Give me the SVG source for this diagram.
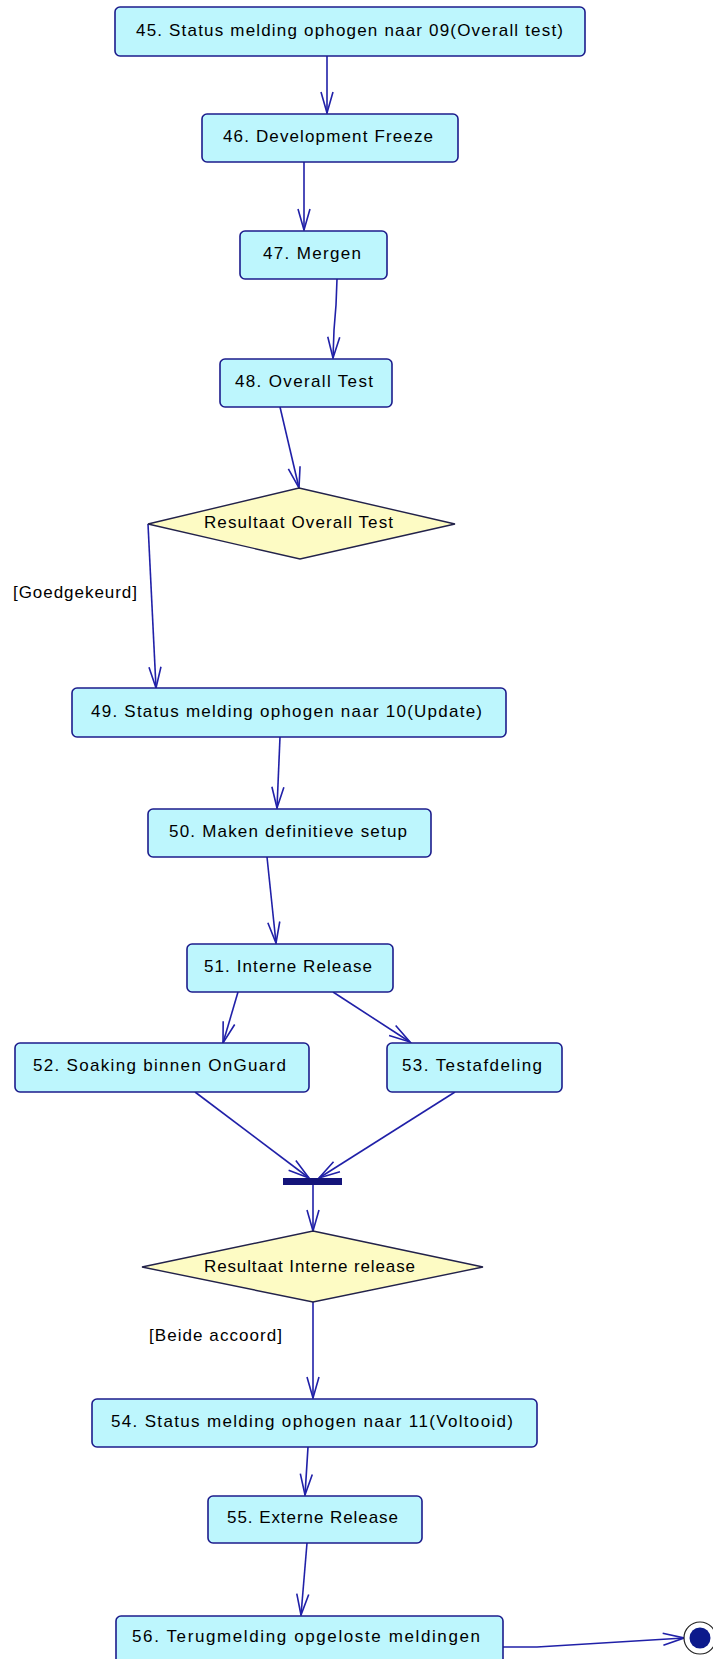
<svg xmlns="http://www.w3.org/2000/svg" width="713" height="1659" viewBox="0 0 713 1659">
  <style>
    .act { fill: #bdf6fd; stroke: #1c1c8c; stroke-width: 1.6; }
    .dec { fill: #fdfbc4; stroke: #22224a; stroke-width: 1.4; }
    .lbl { font-family: "Liberation Sans", Arial, sans-serif; font-size: 17px; fill: #000; }
    .edge { fill: none; stroke: #2020a8; stroke-width: 1.6; marker-end: url(#open); }
    .bar { fill: #14147a; }
  </style>
  <defs>
    <marker id="open" markerUnits="userSpaceOnUse" markerWidth="24" markerHeight="16" viewBox="-22 -8 24 16" refX="0" refY="0" orient="auto">
      <path d="M-21,-6 L0,0 L-21,6" fill="none" stroke="#2020a8" stroke-width="1.6"/>
    </marker>
  </defs>
  <rect width="713" height="1659" fill="#ffffff"/>

  <!-- connectors -->
  <g id="connectors">
    <path class="edge" d="M327,56 L327,113"/>
    <path class="edge" d="M304,162 L304,230"/>
    <path class="edge" d="M337,279 L336,305 L334,330 L333,358"/>
    <path class="edge" d="M280,407 L299,488"/>
    <path class="edge" d="M148,524 L156,688"/>
    <path class="edge" d="M280,737 L277,808"/>
    <path class="edge" d="M267,857 L276,943"/>
    <path class="edge" d="M238,992 L223,1043"/>
    <path class="edge" d="M333,992 L410,1042"/>
    <path class="edge" d="M195,1092 L309,1178"/>
    <path class="edge" d="M455,1092 L319,1178"/>
    <path class="edge" d="M313,1185 L313,1231"/>
    <path class="edge" d="M313,1302 L313,1398"/>
    <path class="edge" d="M308,1447 L305,1495"/>
    <path class="edge" d="M307,1543 L301,1615"/>
    <path class="edge" d="M503,1647 L537,1647 L684,1638"/>
    <text class="lbl" x="13" y="598" textLength="124" lengthAdjust="spacing">[Goedgekeurd]</text>
    <text class="lbl" x="149" y="1341" textLength="133" lengthAdjust="spacing">[Beide accoord]</text>
  </g>

  <!-- activities -->
  <g id="n45">
    <rect class="act" x="115" y="7" width="470" height="49" rx="5"/>
    <text class="lbl" x="136" y="36" textLength="427" lengthAdjust="spacing">45. Status melding ophogen naar 09(Overall test)</text>
  </g>
  <g id="n46">
    <rect class="act" x="202" y="114" width="256" height="48" rx="5"/>
    <text class="lbl" x="223" y="142" textLength="210" lengthAdjust="spacing">46. Development Freeze</text>
  </g>
  <g id="n47">
    <rect class="act" x="240" y="231" width="147" height="48" rx="5"/>
    <text class="lbl" x="263" y="259" textLength="98" lengthAdjust="spacing">47. Mergen</text>
  </g>
  <g id="n48">
    <rect class="act" x="220" y="359" width="172" height="48" rx="5"/>
    <text class="lbl" x="235" y="387" textLength="138" lengthAdjust="spacing">48. Overall Test</text>
  </g>
  <g id="d1">
    <polygon class="dec" points="299,488 455,524 300,559 148,524"/>
    <text class="lbl" x="204" y="528" textLength="189" lengthAdjust="spacing">Resultaat Overall Test</text>
  </g>
  <g id="n49">
    <rect class="act" x="72" y="688" width="434" height="49" rx="5"/>
    <text class="lbl" x="91" y="717" textLength="391" lengthAdjust="spacing">49. Status melding ophogen naar 10(Update)</text>
  </g>
  <g id="n50">
    <rect class="act" x="148" y="809" width="283" height="48" rx="5"/>
    <text class="lbl" x="169" y="837" textLength="238" lengthAdjust="spacing">50. Maken definitieve setup</text>
  </g>
  <g id="n51">
    <rect class="act" x="187" y="944" width="206" height="48" rx="5"/>
    <text class="lbl" x="204" y="972" textLength="168" lengthAdjust="spacing">51. Interne Release</text>
  </g>
  <g id="n52">
    <rect class="act" x="15" y="1043" width="294" height="49" rx="5"/>
    <text class="lbl" x="33" y="1071" textLength="253" lengthAdjust="spacing">52. Soaking binnen OnGuard</text>
  </g>
  <g id="n53">
    <rect class="act" x="387" y="1043" width="175" height="49" rx="5"/>
    <text class="lbl" x="402" y="1071" textLength="140" lengthAdjust="spacing">53. Testafdeling</text>
  </g>
  <g id="join">
    <rect class="bar" x="283" y="1178" width="59" height="7"/>
  </g>
  <g id="d2">
    <polygon class="dec" points="313,1231 483,1267 313,1302 142,1267"/>
    <text class="lbl" x="204" y="1272" textLength="211" lengthAdjust="spacing">Resultaat Interne release</text>
  </g>
  <g id="n54">
    <rect class="act" x="92" y="1399" width="445" height="48" rx="5"/>
    <text class="lbl" x="111" y="1427" textLength="402" lengthAdjust="spacing">54. Status melding ophogen naar 11(Voltooid)</text>
  </g>
  <g id="n55">
    <rect class="act" x="208" y="1496" width="214" height="47" rx="5"/>
    <text class="lbl" x="227" y="1523" textLength="171" lengthAdjust="spacing">55. Externe Release</text>
  </g>
  <g id="n56">
    <rect class="act" x="116" y="1616" width="387" height="48" rx="5"/>
    <text class="lbl" x="132" y="1642" textLength="348" lengthAdjust="spacing">56. Terugmelding opgeloste meldingen</text>
  </g>
  <g id="final">
    <circle cx="700" cy="1638" r="16" fill="#ffffff" stroke="#222" stroke-width="1.2"/>
    <circle cx="700" cy="1638" r="10.5" fill="#0c1a8c"/>
  </g>
</svg>
